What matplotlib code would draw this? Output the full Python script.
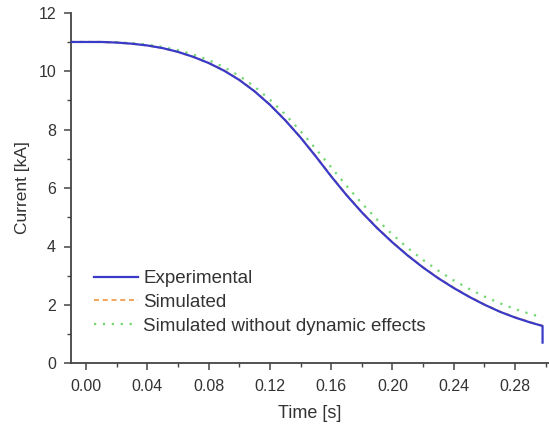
import matplotlib
matplotlib.use("Agg")
import matplotlib.pyplot as plt
from matplotlib.ticker import MultipleLocator, FormatStrFormatter

plt.rcParams['font.family'] = ['Liberation Sans', 'DejaVu Sans']

time_s = [-0.01, 0.00, 0.01, 0.02, 0.03, 0.04, 0.05, 0.06, 0.07, 0.08, 0.09,
          0.10, 0.11, 0.12, 0.13, 0.14, 0.15, 0.16, 0.17, 0.18, 0.19,
          0.20, 0.21, 0.22, 0.23, 0.24, 0.25, 0.26, 0.27, 0.28, 0.29, 0.298]

experimental = [11.0, 11.0, 11.0, 10.98, 10.94, 10.88, 10.79, 10.66, 10.49, 10.28, 10.02,
                9.70, 9.31, 8.85, 8.32, 7.73, 7.08, 6.40, 5.76, 5.17, 4.63,
                4.14, 3.69, 3.28, 2.91, 2.58, 2.28, 2.01, 1.77, 1.57, 1.40, 1.28]
exp_tail_t = [0.298, 0.298]
exp_tail_v = [1.28, 0.71]

simulated = [11.0, 11.0, 11.0, 10.98, 10.94, 10.88, 10.79, 10.66, 10.49, 10.28, 10.03,
             9.71, 9.32, 8.86, 8.33, 7.74, 7.09, 6.41, 5.77, 5.18, 4.64,
             4.15, 3.70, 3.29, 2.92, 2.59, 2.29, 2.02, 1.78, 1.58, 1.41, 1.29]

sim_no_dyn = [11.0, 11.0, 11.0, 10.99, 10.96, 10.91, 10.83, 10.72, 10.57, 10.38, 10.14,
              9.84, 9.47, 9.03, 8.52, 7.95, 7.34, 6.71, 6.08, 5.48, 4.92,
              4.41, 3.95, 3.54, 3.17, 2.84, 2.55, 2.29, 2.06, 1.86, 1.69, 1.57]

labels = ["Experimental", "Simulated", "Simulated without dynamic effects"]

fig = plt.figure(figsize=(5.49, 4.25), dpi=100)
ax = fig.add_axes([0.130, 0.145, 0.870, 0.825])

txt = '#333333'
l1, = ax.plot(time_s + exp_tail_t[1:], experimental + exp_tail_v[1:], color='#3a3ac8', lw=1.6,
              label=labels[0], zorder=3)
l2, = ax.plot(time_s, simulated, color='#f0a860', lw=1.5, ls=(0, (2.4, 1.8)),
              label=labels[1], zorder=2)
l3, = ax.plot(time_s, sim_no_dyn, color='#72d872', lw=1.6, ls=(0, (1, 3)),
              label=labels[2], zorder=2)

ax.set_xlim(-0.0096, 0.3022)
ax.set_ylim(0, 12)
ax.xaxis.set_major_locator(MultipleLocator(0.04))
ax.xaxis.set_minor_locator(MultipleLocator(0.02))
ax.yaxis.set_major_locator(MultipleLocator(2))
ax.yaxis.set_minor_locator(MultipleLocator(1))
ax.xaxis.set_major_formatter(FormatStrFormatter('%.2f'))
ax.yaxis.set_major_formatter(FormatStrFormatter('%d'))

for s in ['top', 'right']:
    ax.spines[s].set_visible(False)
for s in ['left', 'bottom']:
    ax.spines[s].set_color('#444444')
    ax.spines[s].set_linewidth(1.3)

ax.tick_params(which='major', direction='out', length=5, width=1.1, colors='#444444',
               labelsize=11.5, labelcolor=txt, pad=6)
ax.tick_params(which='minor', direction='out', length=3, width=1.0, colors='#444444')

ax.set_xlabel("Time [s]", fontsize=13, color=txt, labelpad=8)
ax.set_ylabel("Current [kA]", fontsize=12.5, color=txt, labelpad=6)

leg = ax.legend(handles=[l1, l2, l3], loc='lower left', bbox_to_anchor=(0.032, 0.06),
                frameon=False, fontsize=13.5, handlelength=2.35, handletextpad=0.27,
                labelspacing=0.36, borderaxespad=0)
for t in leg.get_texts():
    t.set_color(txt)

fig.savefig("out.png", dpi=100)
